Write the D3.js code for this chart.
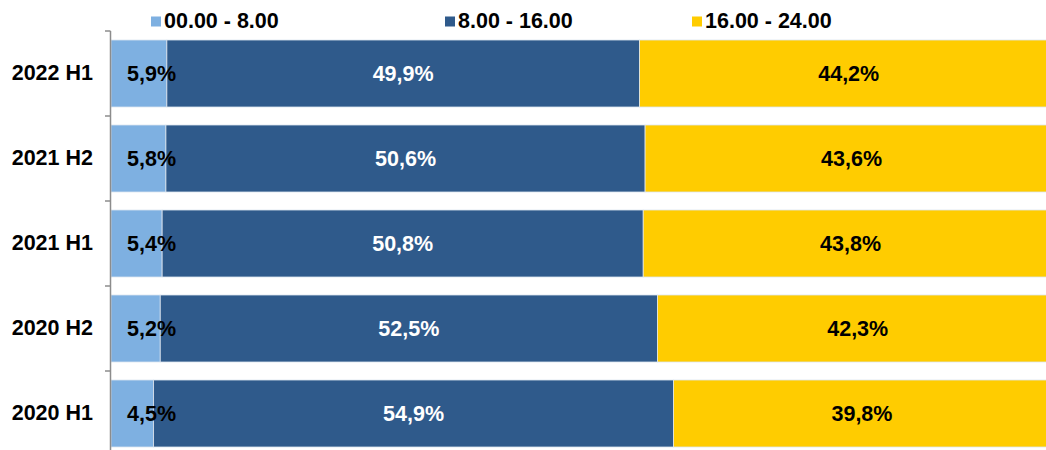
<!DOCTYPE html>
<html>
<head>
<meta charset="utf-8">
<script src="https://cdn.jsdelivr.net/npm/d3@7"></script>
<style>
  html, body { margin: 0; padding: 0; background: #fff; }
  svg { display: block; font-family: "Liberation Sans", Arial, sans-serif; }
</style>
</head>
<body>
<svg id="chart" width="1046" height="450"></svg>
<script>
// Half-year periods, top to bottom
const periods = ["2022 H1", "2021 H2", "2021 H1", "2020 H2", "2020 H1"];
// Share of the day (in %) for each time slot
const night   = [5.9, 5.8, 5.4, 5.2, 4.5];    // 00.00 - 8.00
const day     = [49.9, 50.6, 50.8, 52.5, 54.9]; // 8.00 - 16.00
const evening = [44.2, 43.6, 43.8, 42.3, 39.8]; // 16.00 - 24.00
const seriesNames = ["00.00 - 8.00", "8.00 - 16.00", "16.00 - 24.00"];
const seriesColors = ["#7eb0e1", "#2f5a8b", "#ffcc00"];
const labelColors = ["#000", "#fff", "#000"];
const fontSize = 21.5;

const rows = periods.map((p, i) => ({ period: p, s0: night[i], s1: day[i], s2: evening[i] }));
const keys = ["s0", "s1", "s2"];
const stacked = d3.stack().keys(keys)(rows);

const svg = d3.select("#chart");

const x = d3.scaleLinear().domain([0, 100]).range([111, 1058]);
const y = d3.scaleBand().domain(periods).range([31, 456])
  .paddingInner(18 / 85).paddingOuter(9 / 85);

// Bars
const layers = svg.append("g").selectAll("g")
  .data(stacked).join("g")
  .attr("fill", (d, i) => seriesColors[i]);

layers.selectAll("rect")
  .data(d => d).join("rect")
  .attr("x", d => x(d[0]))
  .attr("y", d => y(d.data.period))
  .attr("width", d => x(d[1]) - x(d[0]))
  .attr("height", y.bandwidth())
  .attr("stroke", "#dde5ef")
  .attr("stroke-width", 0.8);

// Value labels
const fmt = v => d3.format(".1f")(v).replace(".", ",") + "%";
stacked.forEach((layer, li) => {
  svg.append("g").selectAll("text")
    .data(layer).join("text")
    .attr("x", d => li === 0 ? x(d[0]) + 16 : x((d[0] + d[1]) / 2))
    .attr("y", d => y(d.data.period) + y.bandwidth() / 2)
    .attr("dy", "0.36em")
    .attr("text-anchor", li === 0 ? "start" : "middle")
    .attr("font-size", fontSize)
    .attr("font-weight", "bold")
    .attr("fill", labelColors[li])
    .text(d => fmt(d[1] - d[0]));
});

// Category axis
const axis = svg.append("g").attr("transform", `translate(${x(0)},0)`)
  .call(d3.axisLeft(y).tickSize(0).tickPadding(18));
axis.select(".domain").remove();
axis.selectAll("text")
  .attr("font-size", fontSize)
  .attr("font-weight", "bold")
  .attr("fill", "#000")
  .attr("font-family", "'Liberation Sans', Arial, sans-serif");

const bounds = periods.map(p => y(p) - y.step() * y.paddingInner() / 2).concat([y.range()[1]]);
bounds[0] = y.range()[0];
svg.append("line")
  .attr("x1", x(0) - 0.5).attr("x2", x(0) - 0.5)
  .attr("y1", y.range()[0]).attr("y2", y.range()[1])
  .attr("stroke", "#8c8c8c").attr("stroke-width", 1.5);
svg.append("g").selectAll("line")
  .data(bounds).join("line")
  .attr("x1", x(0) - 6).attr("x2", x(0) - 0.5)
  .attr("y1", d => d).attr("y2", d => d)
  .attr("stroke", "#8c8c8c").attr("stroke-width", 1.5);

// Legend
const legendX = [151, 445, 692];
const legend = svg.append("g").selectAll("g")
  .data(seriesNames).join("g")
  .attr("transform", (d, i) => `translate(${legendX[i]},0)`);
legend.append("rect")
  .attr("x", 0).attr("y", 16.5).attr("width", 10).attr("height", 10)
  .attr("fill", (d, i) => seriesColors[i]);
legend.append("text")
  .attr("x", 13).attr("y", 28)
  .attr("font-size", fontSize).attr("font-weight", "bold").attr("fill", "#000")
  .text(d => d);
</script>
</body>
</html>
